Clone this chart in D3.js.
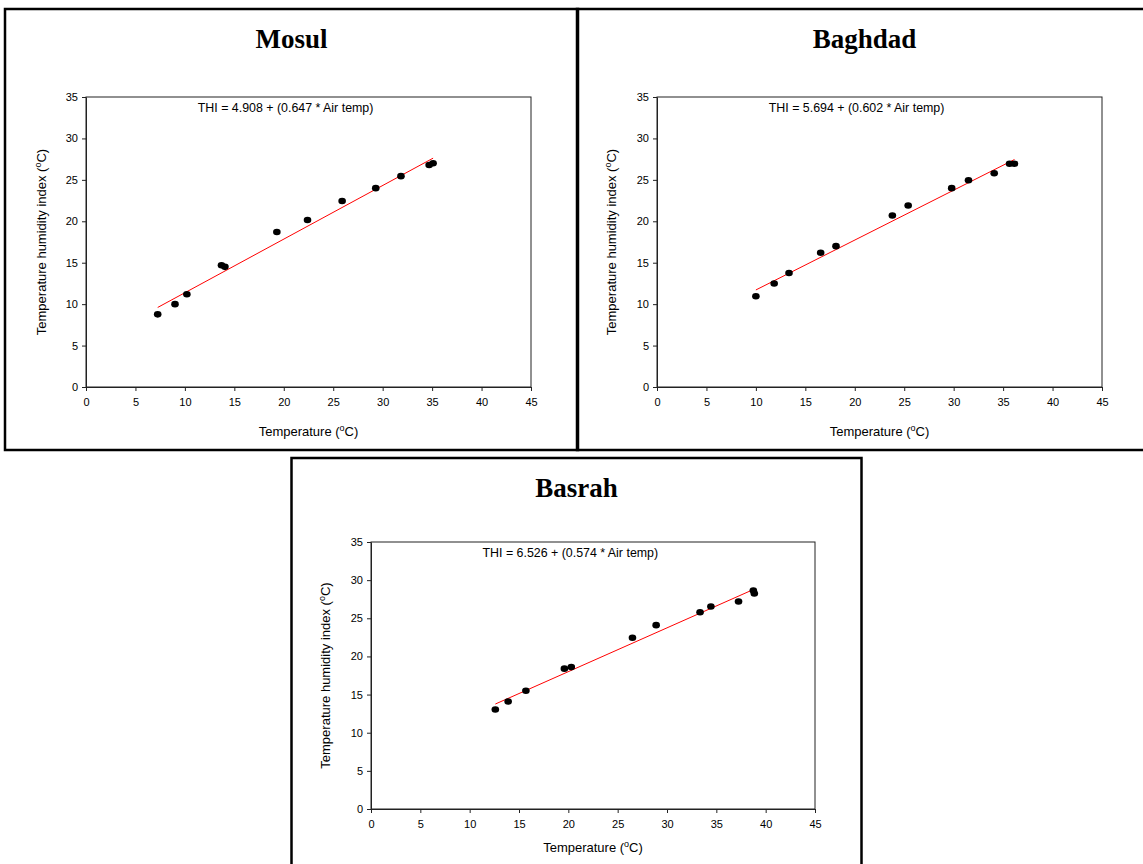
<!DOCTYPE html>
<html>
<head>
<meta charset="utf-8">
<script src="https://cdn.jsdelivr.net/npm/d3@7"></script>
<style>
  body { margin: 0; background: #fff; }
  text { font-family: Arial, "Liberation Sans", sans-serif; }
</style>
</head>
<body>
<svg id="chart" width="1143" height="864"></svg>
<script>
// data
var cities = ["Mosul", "Baghdad", "Basrah"];
var xTicks = [0, 5, 10, 15, 20, 25, 30, 35, 40, 45];
var yTicks = [0, 5, 10, 15, 20, 25, 30, 35];

var mosulTemp = [7.25, 9.0, 10.2, 13.7, 14.05, 19.3, 22.4, 25.9, 29.3, 31.85, 34.7, 35.1];
var mosulTHI  = [8.77, 10.0, 11.2, 14.7, 14.5, 18.7, 20.15, 22.45, 24.0, 25.45, 26.8, 27.0];

var baghdadTemp = [10.0, 11.85, 13.35, 16.55, 18.1, 23.8, 25.4, 29.8, 31.5, 34.1, 35.65, 36.15];
var baghdadTHI  = [10.95, 12.5, 13.75, 16.2, 17.0, 20.7, 21.9, 24.0, 24.95, 25.8, 26.95, 26.95];

var basrahTemp = [12.6, 13.9, 15.7, 19.6, 20.3, 26.5, 28.9, 33.35, 34.45, 37.25, 38.75, 38.85];
var basrahTHI  = [13.05, 14.1, 15.5, 18.4, 18.6, 22.45, 24.1, 25.8, 26.55, 27.2, 28.65, 28.25];

var intercepts = [4.908, 5.694, 6.526];
var slopes = [0.647, 0.602, 0.574];

var temps = [mosulTemp, baghdadTemp, basrahTemp];
var thiValues = [mosulTHI, baghdadTHI, basrahTHI];

// layout of the three framed panels
var panels = [
  {box: [5, 9, 573, 441], plot: [86, 97, 445, 290], titleY: 48, xLabY: 436, yLabX: 42},
  {box: [577, 9, 575, 441], plot: [657, 97, 445, 290], titleY: 48, xLabY: 436, yLabX: 612},
  {box: [291.5, 458, 570, 420], plot: [371, 542, 444, 267], titleY: 497, xLabY: 852, yLabX: 326}
];

var svg = d3.select("#chart");
svg.append("rect").attr("width", 1143).attr("height", 864).attr("fill", "#fff");

panels.forEach(function (p, i) {
  var g = svg.append("g");

  g.append("rect")
    .attr("x", p.box[0]).attr("y", p.box[1])
    .attr("width", p.box[2]).attr("height", p.box[3])
    .attr("fill", "none")
    .attr("stroke", "#000")
    .attr("stroke-width", 2.5);

  g.append("text")
    .attr("x", p.box[0] + p.box[2] / 2)
    .attr("y", p.titleY)
    .attr("text-anchor", "middle")
    .style("font-family", "'Liberation Serif', 'Times New Roman', serif")
    .style("font-weight", "bold")
    .style("font-size", "27px")
    .text(cities[i]);

  var left = p.plot[0], top = p.plot[1], w = p.plot[2], h = p.plot[3];

  var x = d3.scaleLinear().domain([0, 45]).range([left, left + w]);
  var y = d3.scaleLinear().domain([0, 35]).range([top + h, top]);

  // plot frame
  g.append("rect")
    .attr("x", left).attr("y", top)
    .attr("width", w).attr("height", h)
    .attr("fill", "none")
    .attr("stroke", "#222")
    .attr("stroke-width", 1);

  var xAxis = g.append("g")
    .attr("transform", `translate(0, ${top + h})`)
    .call(d3.axisBottom(x).tickValues(xTicks).tickSize(4).tickPadding(7).tickSizeOuter(0));

  var yAxis = g.append("g")
    .attr("transform", `translate(${left}, 0)`)
    .call(d3.axisLeft(y).tickValues(yTicks).tickSize(4).tickPadding(4).tickSizeOuter(0));

  [xAxis, yAxis].forEach(function (a) {
    a.select(".domain").attr("stroke", "#222");
    a.selectAll(".tick line").attr("stroke", "#222");
    a.selectAll(".tick text")
      .attr("fill", "#000")
      .style("font-size", "11px")
      .style("font-family", "Arial, 'Liberation Sans', sans-serif");
  });

  // x axis title
  var xl = g.append("text")
    .attr("x", left + w / 2)
    .attr("y", p.xLabY)
    .attr("text-anchor", "middle")
    .style("font-size", "13px")
    .text("Temperature (");
  xl.append("tspan").attr("dy", -5).style("font-size", "9px").text("o");
  xl.append("tspan").attr("dy", 5).text("C)");

  // y axis title
  var yl = g.append("text")
    .attr("transform", `translate(${p.yLabX + 4}, ${top + h / 2}) rotate(-90)`)
    .attr("text-anchor", "middle")
    .style("font-size", "13px")
    .text("Temperature humidity index (");
  yl.append("tspan").attr("dy", -5).style("font-size", "9px").text("o");
  yl.append("tspan").attr("dy", 5).text("C)");

  // regression equation
  g.append("text")
    .attr("x", x(11.3))
    .attr("y", top + 15)
    .style("font-size", "12.4px")
    .text(`THI = ${intercepts[i].toFixed(3)} + (${slopes[i].toFixed(3)} * Air temp)`);

  var pts = temps[i].map(function (t, k) { return {t: t, v: thiValues[i][k]}; });

  // regression line across the data range
  var ext = d3.extent(temps[i]);
  g.append("line")
    .attr("x1", x(ext[0])).attr("y1", y(intercepts[i] + slopes[i] * ext[0]))
    .attr("x2", x(ext[1])).attr("y2", y(intercepts[i] + slopes[i] * ext[1]))
    .attr("stroke", "#ff0000")
    .attr("stroke-width", 1);

  g.selectAll("ellipse.pt")
    .data(pts)
    .enter()
    .append("ellipse")
    .attr("class", "pt")
    .attr("cx", d => x(d.t))
    .attr("cy", d => y(d.v))
    .attr("rx", 3.8)
    .attr("ry", 3.3)
    .attr("fill", "#000");
});
</script>
</body>
</html>
